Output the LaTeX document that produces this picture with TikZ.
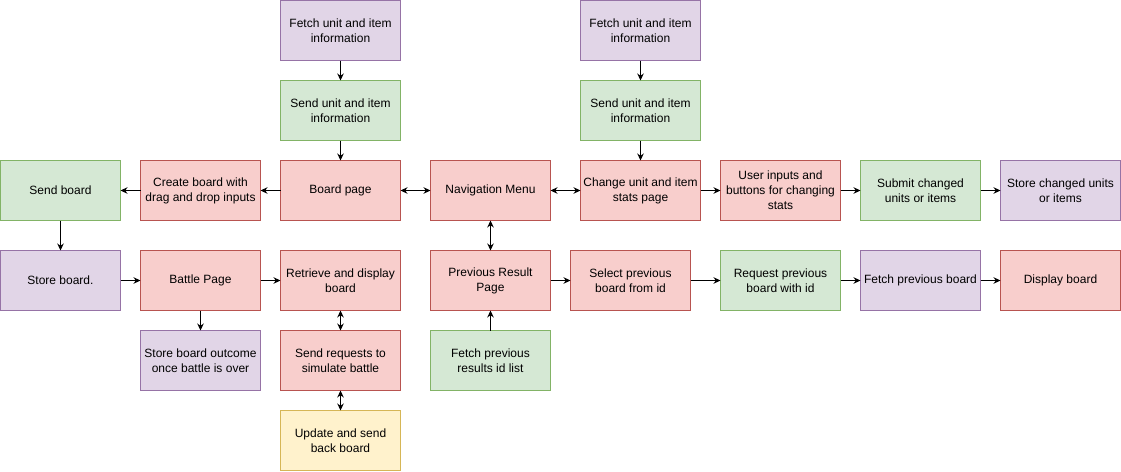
\documentclass[tikz,border=0pt]{standalone}
\usepackage{fontspec}
\setmainfont{Liberation Sans}
\usetikzlibrary{positioning,arrows.meta}

\definecolor{redfill}{HTML}{F8CECC}
\definecolor{redline}{HTML}{B85450}
\definecolor{greenfill}{HTML}{D5E8D4}
\definecolor{greenline}{HTML}{82B366}
\definecolor{purplefill}{HTML}{E1D5E7}
\definecolor{purpleline}{HTML}{9673A6}
\definecolor{yellowfill}{HTML}{FFF2CC}
\definecolor{yellowline}{HTML}{D6B656}

\tikzset{
  box/.style={draw, rectangle, minimum width=120pt, minimum height=60pt,
    align=center, inner sep=0pt, outer sep=0pt,
    font=\fontsize{12}{15}\selectfont},
  redbox/.style={box, fill=redfill, draw=redline},
  greenbox/.style={box, fill=greenfill, draw=greenline},
  purplebox/.style={box, fill=purplefill, draw=purpleline},
  yellowbox/.style={box, fill=yellowfill, draw=yellowline},
}

\begin{document}
\begin{tikzpicture}[>={Stealth[length=7pt,width=6.5pt]}, line width=0.9pt]
  \useasboundingbox (0,0) rectangle (1121pt,-471pt);

  \node[redbox] (board) at (340.5pt,-190.5pt) {Board page};
  \node[redbox, left=20pt of board] (create) {Create board with\\drag and drop inputs};
  \node[greenbox, left=20pt of create] (sendboard) {Send board};
  \node[redbox, right=30pt of board] (nav) {Navigation Menu};
  \node[redbox, right=30pt of nav] (change) {Change unit and item\\stats page};
  \node[redbox, right=20pt of change] (userin) {User inputs and\\buttons for changing\\stats};
  \node[greenbox, right=20pt of userin] (submit) {Submit changed\\units or items};
  \node[purplebox, right=20pt of submit] (storechg) {Store changed units\\or items};

  \node[greenbox, above=20pt of board] (sendinfoA) {Send unit and item\\information};
  \node[purplebox, above=20pt of sendinfoA] (fetchA) {Fetch unit and item\\information};
  \node[greenbox, above=20pt of change] (sendinfoB) {Send unit and item\\information};
  \node[purplebox, above=20pt of sendinfoB] (fetchB) {Fetch unit and item\\information};

  \node[purplebox, below=30pt of sendboard] (storeboard) {Store board.};
  \node[redbox, below=30pt of create] (battle) {Battle Page};
  \node[redbox, below=30pt of board] (retrieve) {Retrieve and display\\board};
  \node[redbox, below=30pt of nav] (prevres) {Previous Result\\Page};
  \node[redbox, right=20pt of prevres] (select) {Select previous\\board from id};
  \node[greenbox, right=30pt of select] (request) {Request previous\\board with id};
  \node[purplebox, right=20pt of request] (fetchprev) {Fetch previous board};
  \node[redbox, right=20pt of fetchprev] (display) {Display board};

  \node[purplebox, below=20pt of battle] (outcome) {Store board outcome\\once battle is over};
  \node[redbox, below=20pt of retrieve] (simulate) {Send requests to\\simulate battle};
  \node[greenbox, below=20pt of prevres] (fetchids) {Fetch previous\\results id list};
  \node[yellowbox, below=20pt of simulate] (update) {Update and send\\back board};

  \draw[->] (fetchA) -- (sendinfoA);
  \draw[->] (sendinfoA) -- (board);
  \draw[->] (fetchB) -- (sendinfoB);
  \draw[->] (sendinfoB) -- (change);
  \draw[->] (board) -- (create);
  \draw[->] (create) -- (sendboard);
  \draw[<->] (board) -- (nav);
  \draw[<->] (nav) -- (change);
  \draw[->] (change) -- (userin);
  \draw[->] (userin) -- (submit);
  \draw[->] (submit) -- (storechg);
  \draw[<->] (nav) -- (prevres);
  \draw[->] (sendboard) -- (storeboard);
  \draw[->] (storeboard) -- (battle);
  \draw[->] (battle) -- (retrieve);
  \draw[->] (battle) -- (outcome);
  \draw[<->] (retrieve) -- (simulate);
  \draw[<->] (simulate) -- (update);
  \draw[->] (fetchids) -- (prevres);
  \draw[->] (prevres) -- (select);
  \draw[->] (select) -- (request);
  \draw[->] (request) -- (fetchprev);
  \draw[->] (fetchprev) -- (display);
\end{tikzpicture}
\end{document}
